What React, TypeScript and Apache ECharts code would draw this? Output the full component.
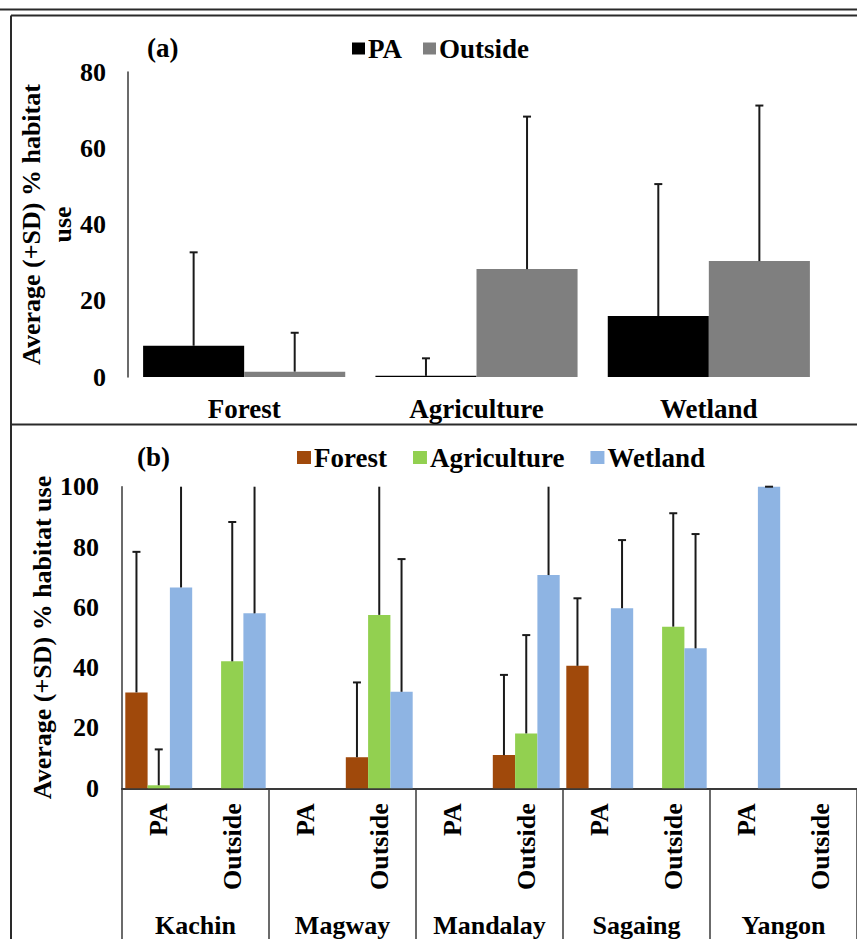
import React, { useEffect, useRef } from "react";
import * as echarts from "echarts";

// ---------- Panel (a) data ----------
const habitatCats = ["Forest", "Agriculture", "Wetland"];
const paMean = [8.2, 0.3, 16.0];
const paSD = [24.5, 4.6, 34.6];
const outsideMean = [1.4, 28.3, 30.4];
const outsideSD = [10.2, 40.0, 40.8];
const yMaxA = 80;
const yIntervalA = 20;

// ---------- Panel (b) data ----------
const regions = ["Kachin", "Magway", "Mandalay", "Sagaing", "Yangon"];
const siteTypes = ["PA", "Outside"];
// order: Kachin PA, Kachin Outside, Magway PA, Magway Outside, ...
const forestMean = [31.8, 0, 0, 10.3, 0, 11.0, 40.6, 0, 0, 0];
const forestSD = [46.6, 0, 0, 24.8, 0, 26.6, 22.4, 0, 0, 0];
const agriMean = [1.0, 42.1, 0, 57.5, 0, 18.2, 0, 53.6, 0, 0];
const agriSD = [11.9, 46.2, 0, 45.0, 0, 32.6, 0, 37.6, 0, 0];
const wetMean = [66.6, 58.0, 0, 32.0, 0, 70.7, 59.7, 46.4, 100, 0];
const wetSD = [38.0, 45.0, 0, 44.0, 0, 35.0, 22.6, 37.9, 0, 0];
const yMaxB = 100;
const yIntervalB = 20;

const FONT = "Liberation Serif";
const AXIS_COLOR = "#3a3a3a";
const ERR_COLOR = "#1a1a1a";

const txt = (size = 26) => ({
  fontFamily: FONT,
  fontWeight: "bold" as const,
  fontSize: size,
  color: "#000",
});

function errSeries(
  name: string,
  xAxisIndex: number,
  yAxisIndex: number,
  means: number[],
  sds: number[],
  idx: number,
  n: number,
  gapFrac: number,
  yMax: number
) {
  return {
    type: "custom",
    name,
    xAxisIndex,
    yAxisIndex,
    z: 5,
    silent: true,
    encode: { x: 0, y: 1 },
    data: means.map((m, i) => [i, m, sds[i]]).filter((d) => d[1] > 0),
    renderItem: (params: any, api: any) => {
      const ci = api.value(0);
      const m = api.value(1);
      const s = api.value(2);
      const topV = Math.min(m + s, yMax);
      const p0 = api.coord([ci, m]);
      const p1 = api.coord([ci, topV]);
      const band = api.size([1, 0])[0];
      const bw = (band * (1 - gapFrac)) / n;
      const x = p0[0] + (idx - (n - 1) / 2) * bw;
      const children: any[] = [
        {
          type: "line",
          shape: { x1: x, y1: p0[1], x2: x, y2: p1[1] },
          style: { stroke: ERR_COLOR, lineWidth: 2 },
        },
      ];
      if (m + s <= yMax) {
        children.push({
          type: "line",
          shape: { x1: x - 4, y1: p1[1], x2: x + 4, y2: p1[1] },
          style: { stroke: ERR_COLOR, lineWidth: 2 },
        });
      }
      return { type: "group", children };
    },
  };
}

export default function App() {
  const ref = useRef<HTMLDivElement>(null);

  useEffect(() => {
    if (!ref.current) return;
    const chart = echarts.init(ref.current, null, { renderer: "svg" });

    const bCats = regions.flatMap((r) => siteTypes.map((s) => r + "|" + s));
    const gapA = 0.13;
    const gapB = 0.09;

    const option: any = {
      animation: false,
      backgroundColor: "#fff",
      title: [
        { text: "(a)", left: 147, top: 34, padding: 0, textStyle: txt(27) },
        { text: "(b)", left: 137, top: 443, padding: 0, textStyle: txt(27) },
      ],
      legend: [
        {
          data: ["PA", "Outside"],
          left: 352,
          top: 35,
          padding: 0,
          icon: "rect",
          itemWidth: 13,
          itemHeight: 12,
          itemGap: 21,
          textStyle: { ...txt(27), padding: [0, 0, 0, -2] },
        },
        {
          data: ["Forest", "Agriculture", "Wetland"],
          left: 297,
          top: 444,
          padding: 0,
          icon: "rect",
          itemWidth: 14,
          itemHeight: 13,
          itemGap: 26,
          textStyle: { ...txt(27), padding: [0, 0, 0, -2] },
        },
      ],
      grid: [
        { left: 128, top: 72, width: 697, height: 305 },
        { left: 122, top: 486.7, width: 735, height: 301.6 },
      ],
      xAxis: [
        {
          type: "category",
          gridIndex: 0,
          data: habitatCats,
          axisLine: { show: false },
          axisTick: { show: false },
          axisLabel: { ...txt(27), margin: 18 },
        },
        {
          type: "category",
          gridIndex: 1,
          data: bCats,
          position: "bottom",
          axisLine: { show: true, lineStyle: { color: AXIS_COLOR, width: 2 } },
          axisTick: { show: false },
          axisLabel: {
            ...txt(),
            interval: 0,
            rotate: 90,
            margin: 15,
            formatter: (v: string) => v.split("|")[1],
          },
        },
        {
          type: "category",
          gridIndex: 1,
          data: regions,
          position: "bottom",
          axisLine: { show: false },
          axisTick: {
            show: true,
            interval: 0,
            length: 160,
            lineStyle: { color: AXIS_COLOR, width: 1.5 },
          },
          axisLabel: { ...txt(), interval: 0, margin: 124 },
        },
      ],
      yAxis: [
        {
          type: "value",
          gridIndex: 0,
          min: 0,
          max: yMaxA,
          interval: yIntervalA,
          splitLine: { show: false },
          axisTick: { show: false },
          axisLine: { show: true, lineStyle: { color: AXIS_COLOR, width: 1.5 } },
          axisLabel: { ...txt(), margin: 22 },
          name: "Average (+SD) % habitat\nuse",
          nameLocation: "middle",
          nameGap: 50,
          nameMoveOverlap: false,
          nameTextStyle: { ...txt(), lineHeight: 31 },
        },
        {
          type: "value",
          gridIndex: 1,
          min: 0,
          max: yMaxB,
          interval: yIntervalB,
          splitLine: { show: false },
          axisTick: { show: false },
          axisLine: { show: true, lineStyle: { color: AXIS_COLOR, width: 1.5 } },
          axisLabel: { ...txt(), margin: 23 },
          name: "Average (+SD) % habitat use",
          nameLocation: "middle",
          nameGap: 64,
          nameMoveOverlap: false,
          nameTextStyle: { ...txt(), lineHeight: 31 },
        },
      ],
      series: [
        {
          type: "bar",
          name: "PA",
          xAxisIndex: 0,
          yAxisIndex: 0,
          data: paMean,
          itemStyle: { color: "#000000" },
          barGap: "0%",
          barCategoryGap: gapA * 100 + "%",
        },
        {
          type: "bar",
          name: "Outside",
          xAxisIndex: 0,
          yAxisIndex: 0,
          data: outsideMean,
          itemStyle: { color: "#7f7f7f" },
          barGap: "0%",
          barCategoryGap: gapA * 100 + "%",
        },
        {
          type: "bar",
          name: "Forest",
          xAxisIndex: 1,
          yAxisIndex: 1,
          data: forestMean,
          itemStyle: { color: "#a0490b" },
          barGap: "0%",
          barCategoryGap: gapB * 100 + "%",
        },
        {
          type: "bar",
          name: "Agriculture",
          xAxisIndex: 1,
          yAxisIndex: 1,
          data: agriMean,
          itemStyle: { color: "#92d050" },
          barGap: "0%",
          barCategoryGap: gapB * 100 + "%",
        },
        {
          type: "bar",
          name: "Wetland",
          xAxisIndex: 1,
          yAxisIndex: 1,
          data: wetMean,
          itemStyle: { color: "#8eb4e3" },
          barGap: "0%",
          barCategoryGap: gapB * 100 + "%",
        },
        errSeries("errPA", 0, 0, paMean, paSD, 0, 2, gapA, yMaxA),
        errSeries("errOut", 0, 0, outsideMean, outsideSD, 1, 2, gapA, yMaxA),
        errSeries("errF", 1, 1, forestMean, forestSD, 0, 3, gapB, yMaxB),
        errSeries("errAg", 1, 1, agriMean, agriSD, 1, 3, gapB, yMaxB),
        errSeries("errW", 1, 1, wetMean, wetSD, 2, 3, gapB, yMaxB),
      ],
      graphic: [
        {
          type: "line",
          shape: { x1: 0, y1: 9.5, x2: 857, y2: 9.5 },
          style: { stroke: "#2a2a2a", lineWidth: 2 },
        },
        {
          type: "line",
          shape: { x1: 11, y1: 15.5, x2: 857, y2: 15.5 },
          style: { stroke: "#2a2a2a", lineWidth: 2 },
        },
        {
          type: "line",
          shape: { x1: 11, y1: 15.5, x2: 11, y2: 939 },
          style: { stroke: "#2a2a2a", lineWidth: 2 },
        },
        {
          type: "line",
          shape: { x1: 11, y1: 424.5, x2: 857, y2: 424.5 },
          style: { stroke: "#2a2a2a", lineWidth: 2 },
        },
      ],
    };

    chart.setOption(option);
    return () => chart.dispose();
  }, []);

  return (
    <div
      ref={ref}
      style={{ position: "absolute", left: 0, top: 0, width: 857, height: 939 }}
    />
  );
}
